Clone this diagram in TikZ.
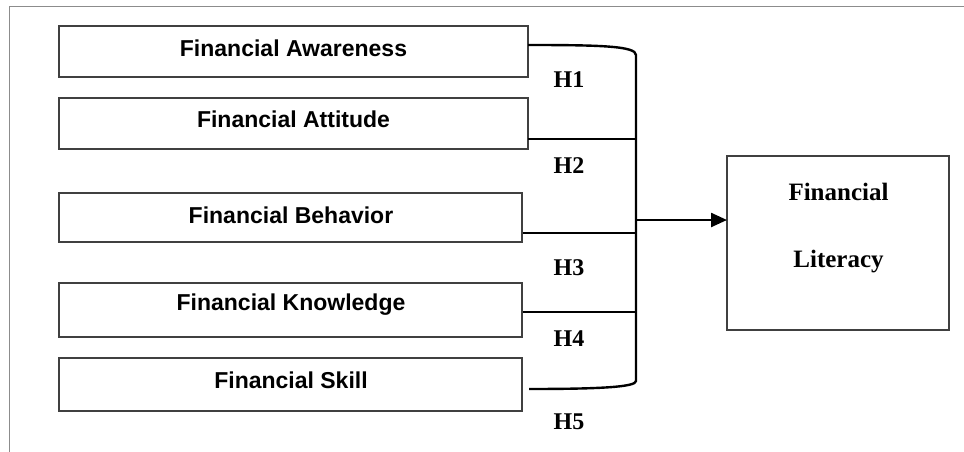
\documentclass[tikz,border=0pt]{standalone}
\usepackage{fontspec}
\setmainfont{Liberation Serif}
\newfontfamily\arialf{Liberation Sans}
\usetikzlibrary{arrows.meta}
\begin{document}
\begin{tikzpicture}[x=1pt,y=-1pt,
  varbox/.style={draw=black!75,line width=1.8pt,minimum height=0pt,minimum width=0pt,inner sep=0pt},
  vartext/.style={font=\arialf\bfseries\fontsize{23}{26}\selectfont,inner sep=0pt,anchor=center},
  hlab/.style={font=\bfseries\fontsize{24}{28}\selectfont,inner sep=0pt,anchor=center},
  littext/.style={font=\bfseries\fontsize{25}{28}\selectfont,inner sep=0pt,anchor=center},
  conn/.style={line width=2.4pt,black},
  frameline/.style={line width=1.6pt,black!45}]
\useasboundingbox (0,0) rectangle (964,452);
% frame
\draw[frameline] (964,6.5) -- (9.5,6.5) -- (9.5,452);
% boxes
\draw[varbox] (59,26) rectangle (528,77);
\draw[varbox] (59,98) rectangle (528,149);
\draw[varbox] (59,193) rectangle (522,242);
\draw[varbox] (59,283) rectangle (522,337);
\draw[varbox] (59,358) rectangle (522,411);
\draw[varbox] (727,156) rectangle (949,330);
\coordinate (b1) at (528,45);
\coordinate (b2) at (528,139);
\coordinate (b3) at (523,233);
\coordinate (b4) at (523,312);
\coordinate (b5) at (529,389);
\coordinate (lit) at (727,220);
\node[vartext] (t1) at (293.5,48) {Financial Awareness};
\node[vartext] (t2) at (293.5,119) {Financial Attitude};
\node[vartext] (t3) at (291,215) {Financial Behavior};
\node[vartext] (t4) at (291,305) {Financial Knowledge};
\node[vartext] (t5) at (291,380) {Financial Skill};
\node[littext] (l1) at (838.5,192) {Financial};
\node[littext] (l2) at (838.5,262) {Literacy};
% bus
\coordinate (top) at (636,55);
\coordinate (bot) at (636,381);
\coordinate (j) at (636,220);
\draw[conn] (b1) .. controls (600,45) and (636,46) .. (top) -- (bot)
  .. controls (636,387) and (600,389) .. (b5);
\draw[conn] (b2) -- (b2 -| top);
\draw[conn] (b3) -- (b3 -| top);
\draw[conn] (b4) -- (b4 -| top);
\draw[conn,-{Triangle[length=16pt,width=14pt]}] (j) -- (lit);
% H labels
\node[hlab] (h1) at (569,80) {H1};
\node[hlab] (h2) at (569,166) {H2};
\node[hlab] (h3) at (569,268) {H3};
\node[hlab] (h4) at (569,339) {H4};
\node[hlab] (h5) at (569,422) {H5};
\end{tikzpicture}
\end{document}
